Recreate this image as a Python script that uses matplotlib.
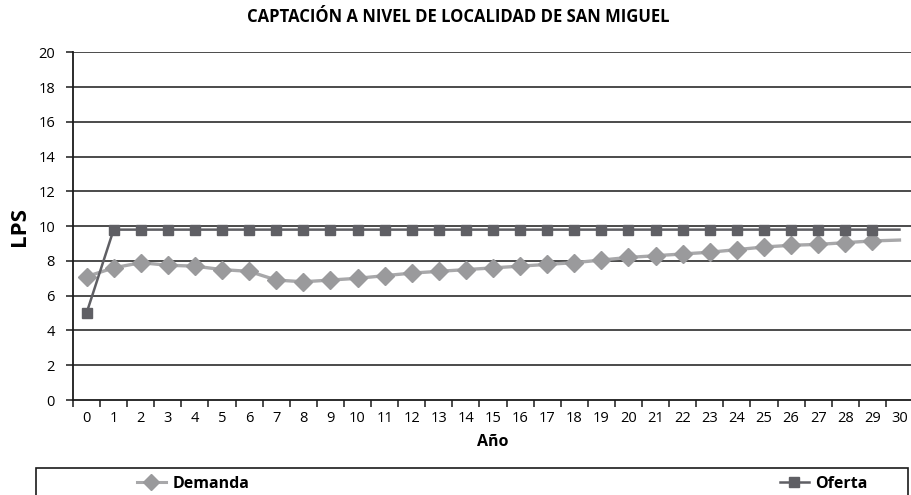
import matplotlib
matplotlib.use("Agg")
import matplotlib.pyplot as plt
from matplotlib.lines import Line2D
from matplotlib.patches import Rectangle

years = list(range(31))
demanda = [7.1, 7.6, 7.9, 7.75, 7.7, 7.5, 7.4, 6.9, 6.8, 6.9, 7.0, 7.15,
           7.3, 7.4, 7.5, 7.6, 7.7, 7.8, 7.9, 8.05, 8.2, 8.3, 8.4, 8.5,
           8.65, 8.8, 8.9, 8.95, 9.05, 9.15, 9.2]
oferta = [5.0] + [9.8] * 30
yticks = list(range(0, 21, 2))

dem_col = "#9a9a9c"
ofe_col = "#5f5f64"
font = ["Open Sans", "DejaVu Sans"]

fig = plt.figure(figsize=(9.11, 4.95), dpi=100)
ax = fig.add_axes([73 / 911, 95 / 495, 840 / 911, 347.7 / 495])
ax.set_xlim(-0.5, 30.5)
ax.set_ylim(0, 20)

for v in yticks[1:]:
    ax.axhline(v, color="#1a1a1a", lw=1.1, zorder=1)

ax.plot(years, demanda, color="#a8a8aa", lw=2.4, marker="D", ms=9,
        mfc=dem_col, mec=dem_col, markevery=list(range(30)), zorder=3)
ax.plot(years, oferta, color=ofe_col, lw=1.8, marker="s", ms=7.5,
        mfc=ofe_col, mec=ofe_col, markevery=list(range(30)), zorder=4)

for s in ["top", "right"]:
    ax.spines[s].set_visible(False)
for s in ["left", "bottom"]:
    ax.spines[s].set_color("#1a1a1a")
    ax.spines[s].set_linewidth(1.3)

ax.set_yticks(yticks)
ax.set_yticklabels([str(v) for v in yticks], fontfamily=font, fontsize=10.5)
ax.tick_params(axis="y", length=5, width=1.1, color="#1a1a1a", pad=8)

ax.set_xticks([x - 0.5 for x in range(32)])
ax.set_xticklabels([])
ax.set_xticks(years, minor=True)
ax.set_xticklabels([str(y) for y in years], minor=True,
                   fontfamily=font, fontsize=10.5)
ax.tick_params(axis="x", which="major", length=5, width=1.1, color="#1a1a1a")
ax.tick_params(axis="x", which="minor", length=0, pad=8)

ax.set_xlabel("Año", fontfamily=font, fontweight="bold", fontsize=11.5, labelpad=6)
ax.set_ylabel("LPS", fontfamily=font, fontweight="bold", fontsize=16, labelpad=6)
fig.text(458 / 911, 1 - 17 / 495, "CAPTACIÓN A NIVEL DE LOCALIDAD DE SAN MIGUEL",
         ha="center", va="center", fontfamily=font, fontweight="bold", fontsize=12)

# legend box
fig.patches.append(Rectangle((36 / 911, -0.05), (908 - 36) / 911, (495 - 468) / 495 + 0.05,
                             transform=fig.transFigure, fill=False,
                             ec="#1a1a1a", lw=1.2))
h_dem = Line2D([], [], color="#a8a8aa", lw=2.2, marker="D", ms=8,
               mfc=dem_col, mec=dem_col)
h_ofe = Line2D([], [], color=ofe_col, lw=1.8, marker="s", ms=7,
               mfc=ofe_col, mec=ofe_col)
for h, lab, x0 in [(h_dem, "Demanda", 137 / 911), (h_ofe, "Oferta", 780 / 911)]:
    fig.legend([h], [lab], loc="center left", bbox_to_anchor=(x0, 1 - 484 / 495),
               frameon=False, handlelength=1.8, handletextpad=0.4, borderpad=0,
               borderaxespad=0,
               prop={"family": font, "weight": "bold", "size": 11.5})

fig.savefig("out.png", dpi=100)
